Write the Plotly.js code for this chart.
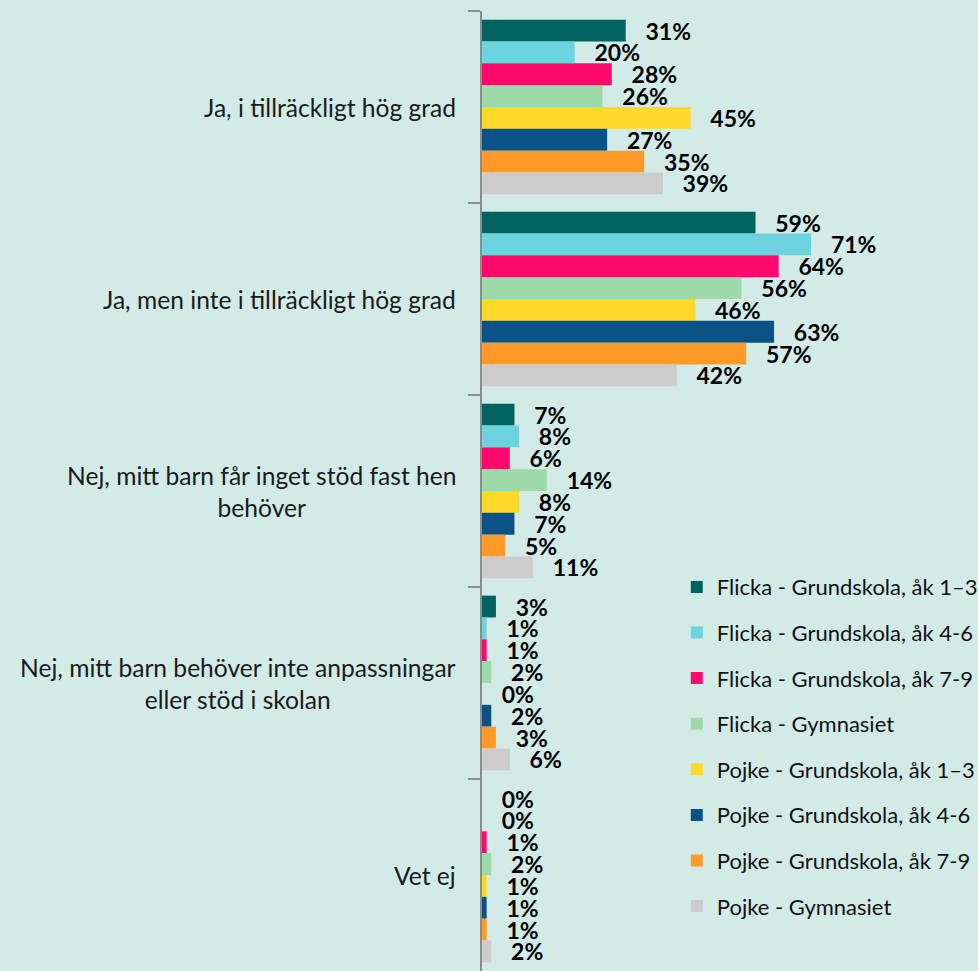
<!DOCTYPE html>
<html>
<head>
<meta charset="utf-8">
<script src="https://cdn.plot.ly/plotly-3.0.1.min.js"></script>
<style>
  html, body { margin: 0; padding: 0; background: #d3ebe7; }
  #chart { width: 978px; height: 971px; }
</style>
</head>
<body>
<div id="chart"></div>
<script>
// Categories (top to bottom)
const categories = [
  "Ja, i tillräckligt hög grad",
  "Ja, men inte i tillräckligt hög grad",
  "Nej, mitt barn får inget stöd fast hen<br>behöver",
  "Nej, mitt barn behöver inte anpassningar<br>eller stöd i skolan",
  "Vet ej"
];

// Series names
const seriesNames = [
  "Flicka - Grundskola, åk 1–3",
  "Flicka - Grundskola, åk 4-6",
  "Flicka - Grundskola, åk 7-9",
  "Flicka - Gymnasiet",
  "Pojke - Grundskola, åk 1–3",
  "Pojke - Grundskola, åk 4-6",
  "Pojke - Grundskola, åk 7-9",
  "Pojke - Gymnasiet"
];

// Values (%) per series, in category order
const flicka13 = [31, 59, 7, 3, 0];
const flicka46 = [20, 71, 8, 1, 0];
const flicka79 = [28, 64, 6, 1, 1];
const flickaGy = [26, 56, 14, 2, 2];
const pojke13  = [45, 46, 8, 0, 1];
const pojke46  = [27, 63, 7, 2, 1];
const pojke79  = [35, 57, 5, 3, 1];
const pojkeGy  = [39, 42, 11, 6, 2];

const seriesValues = [flicka13, flicka46, flicka79, flickaGy, pojke13, pojke46, pojke79, pojkeGy];

const colors = ["#00635f", "#6dd3de", "#ff0a6c", "#9fd8a9", "#ffd92a", "#0a5283", "#ff9a28", "#cccccc"];

const NB = "\u00a0\u00a0\u00a0";
const FONT = "Lato, 'Liberation Sans', sans-serif";

const traces = seriesNames.map((name, i) => ({
  type: "bar",
  orientation: "h",
  name: name,
  legendgroup: "g" + i,
  y: categories,
  x: seriesValues[i],
  text: seriesValues[i].map(v => NB + v + "%"),
  textposition: "outside",
  constraintext: "none",
  cliponaxis: false,
  textfont: { family: FONT, size: 23, color: "#000000", weight: "bold" },
  marker: { color: colors[i], line: { width: 0 } },
  hoverinfo: "skip"
}));

const annotations = categories.map(c => ({
  xref: "paper", yref: "y",
  x: 0, y: c,
  xanchor: "right", yanchor: "middle",
  xshift: -24,
  align: "center",
  showarrow: false,
  text: c,
  font: { family: FONT, size: 24.6, color: "#1a1a1a" }
}));

const layout = {
  width: 978,
  height: 971,
  margin: { l: 482, r: 0, t: 11, b: 0, pad: 0, autoexpand: false },
  paper_bgcolor: "#d3ebe7",
  plot_bgcolor: "#d3ebe7",
  barmode: "group",
  bargap: 0.09,
  bargroupgap: 0,
  showlegend: true,
  legend: {
    xref: "container", yref: "container",
    x: 0.692, y: 0.417, xanchor: "left", yanchor: "top",
    bgcolor: "rgba(0,0,0,0)",
    traceorder: "grouped",
    tracegroupgap: 14,
    font: { family: FONT, size: 22, color: "#111111" }
  },
  xaxis: {
    range: [0, 107],
    visible: false,
    fixedrange: true
  },
  yaxis: {
    type: "category",
    autorange: "reversed",
    showticklabels: false,
    showline: true,
    linecolor: "#8c8c8c",
    linewidth: 2,
    ticks: "outside",
    tickson: "boundaries",
    ticklen: 12,
    tickwidth: 2,
    tickcolor: "#8c8c8c",
    showgrid: false,
    zeroline: false,
    fixedrange: true
  },
  annotations: annotations
};

Plotly.newPlot("chart", traces, layout, { displayModeBar: false, staticPlot: true });
</script>
</body>
</html>
